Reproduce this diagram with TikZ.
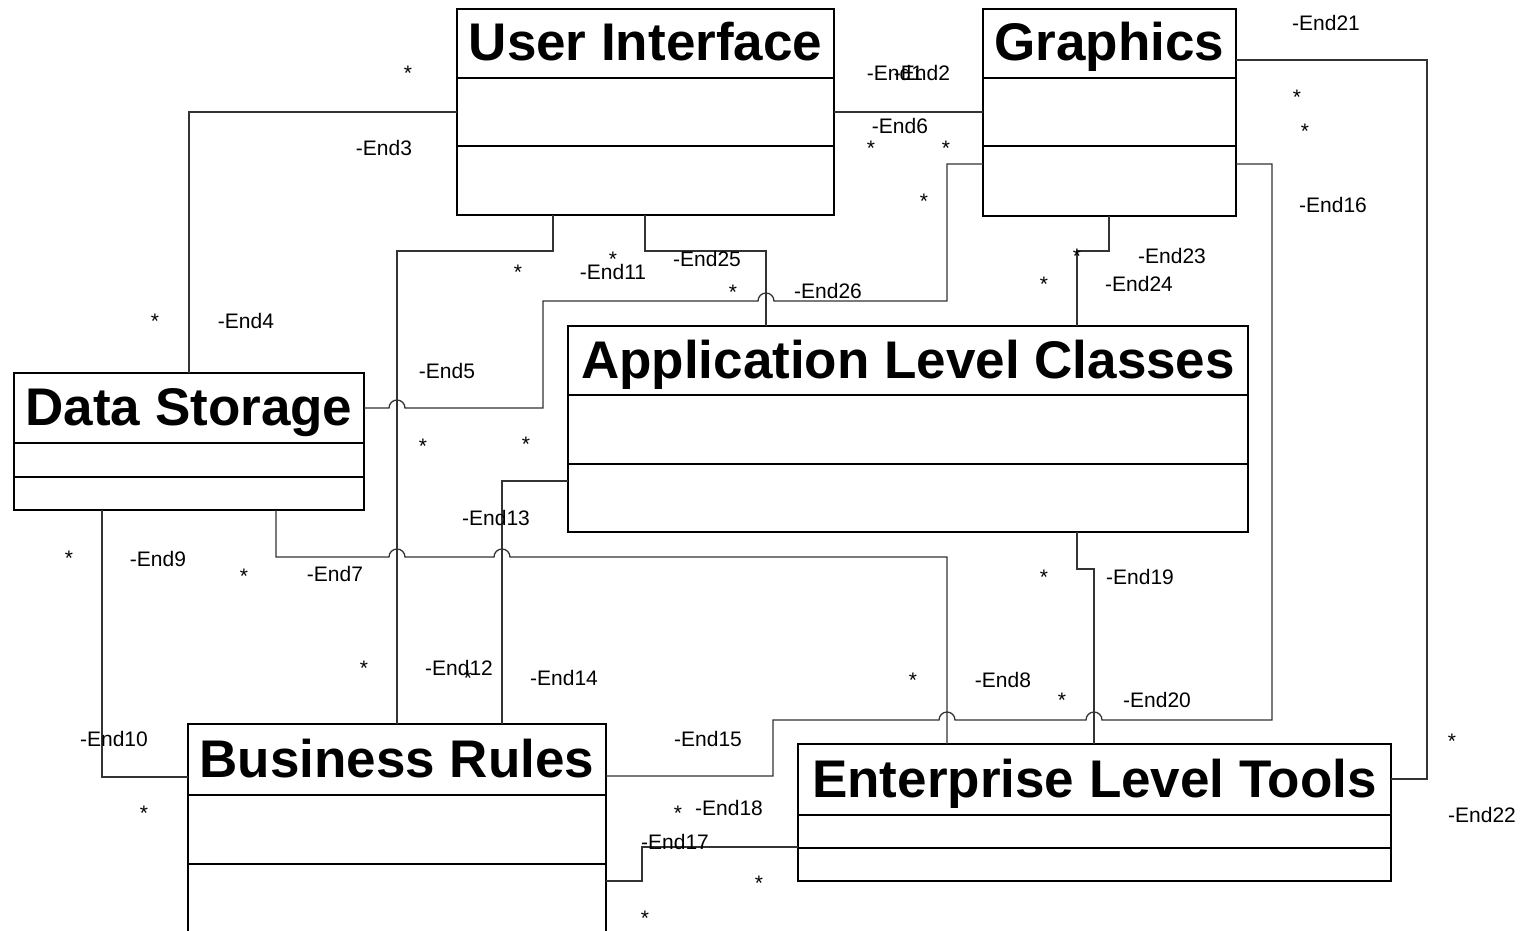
\documentclass[tikz,border=0pt]{standalone}
\usepackage{fontspec}
\setmainfont{Liberation Sans}
\tikzset{
  classhead/.style={draw, line width=2pt, rectangle, inner sep=0pt, outer sep=0pt, anchor=north west,
    font=\fontsize{53}{60}\selectfont\bfseries, text height=38pt, text depth=3pt},
  classpart/.style={draw, line width=2pt, rectangle, inner sep=0pt, outer sep=0pt, anchor=north},
  conn/.style={line width=1.3pt, black!80},
  endname/.style={inner sep=0pt, anchor=base, yshift=-7.5pt, font=\fontsize{21}{24}\selectfont},
  mult/.style={inner sep=0pt, anchor=base, yshift=-12pt, font=\fontsize{21}{24}\selectfont},
}
\begin{document}
\begin{tikzpicture}[x=1pt, y=-1pt]

   \useasboundingbox (0,0) rectangle (1525,931);
   \clip (0,0) rectangle (1525,931);

   % classes: name/x/y/width/head/attributes/operations/title
   \foreach \n/\x/\y/\w/\hh/\ha/\ho/\t in {ui/457/9/377/69/68/69/User Interface,
       gr/983/9/253/69/68/70/Graphics, ds/14/373/350/70/34/33/Data Storage,
       alc/568/326/680/69/69/68/Application Level Classes, br/188/724/418/71/69/69/Business Rules,
       elt/798/744/593/71/33/33/Enterprise Level Tools}
   {
     \node [classhead, minimum width=\w pt, minimum height=\hh pt] (\n) at (\x,\y) {\t};
     \node [classpart, minimum width=\w pt, minimum height=\ha pt] (\n-a) at (\n.south) {};
     \node [classpart, minimum width=\w pt, minimum height=\ho pt] (\n-o) at (\n-a.south) {};
   }

   % associations
   \draw[conn] (ui-a.east) -- (gr-a.west);
   \draw[conn] (ui-a.west) -| (ds.north);
   \draw[conn] (ds.east) -- (389,408) arc[start angle=180, end angle=0, radius=8pt] -- (543,408)
       |- (758,301) arc[start angle=180, end angle=0, radius=8pt] -- (947,301) |- (gr-o.west |- 0,164);
   \draw[conn] (ds-o.south -| 276,0) |- (389,557) arc[start angle=180, end angle=0, radius=8pt]
       -- (494,557) arc[start angle=180, end angle=0, radius=8pt] -| (elt.north -| 947,0);
   \draw[conn] (ds-o.south -| 102,0) |- (br.west |- 0,777);
   \draw[conn] (ui-o.south -| 553,0) |- (397,251) -- (br.north -| 397,0);
   \draw[conn] (alc-o.west |- 0,481) -| (br.north -| 502,0);
   \draw[conn] (br.east |- 0,776) -| (773,720) -- (939,720) arc[start angle=180, end angle=0, radius=8pt]
       -- (1086,720) arc[start angle=180, end angle=0, radius=8pt] -- (1272,720) |- (gr-o.east |- 0,164);
   \draw[conn] (br-o.east |- 0,881) -| (642,847) -- (elt-o.west |- 0,847);
   \draw[conn] (alc-o.south -| 1077,0) |- (1094,569) -- (elt.north -| 1094,0);
   \draw[conn] (gr.east |- 0,60) -- (1427,60) |- (elt.east |- 0,779);
   \draw[conn] (gr-o.south -| 1109,0) |- (1077,251) -- (alc.north -| 1077,0);
   \draw[conn] (ui-o.south -| 645,0) |- (766,251) -- (alc.north -| 766,0);

   % end names
   \foreach \x/\y/\t in {895/73/1, 922/73/2, 384/148/3, 246/321/4, 447/371/5, 900/126/6,
       335/574/7, 1003/680/8, 158/559/9, 114/739/10, 613/272/11, 459/668/12, 496/518/13,
       564/678/14, 708/739/15, 1333/205/16, 675/842/17, 729/808/18, 1140/577/19, 1157/700/20,
       1326/23/21, 1482/815/22, 1172/256/23, 1139/284/24, 707/259/25, 828/291/26}
     \node[endname] (e\t) at (\x,\y) {-End\t};

   % multiplicities
   \foreach [count=\i] \x/\y in {408/69, 871/143, 946/143, 924/196, 518/267, 613/254, 733/287,
       155/316, 423/441, 526/439, 69/553, 244/571, 364/663, 468/673, 913/675, 1062/695,
       1044/572, 1077/251, 1044/279, 1297/93, 1305/127, 1452/736, 144/808, 678/808,
       759/878, 645/913}
     \node[mult] (m\i) at (\x,\y) {*};

\end{tikzpicture}
\end{document}
